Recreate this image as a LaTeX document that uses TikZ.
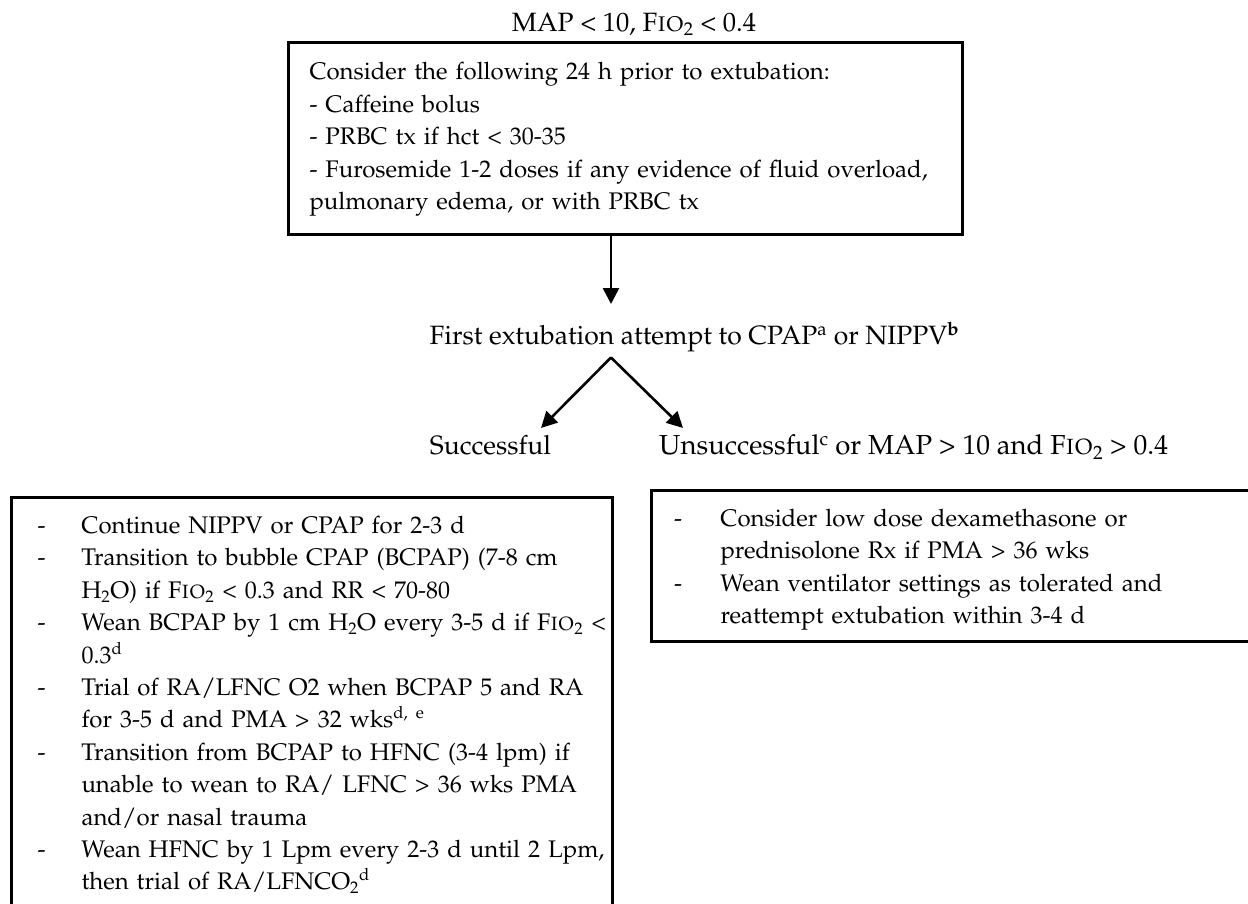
\documentclass[tikz,border=0pt]{standalone}
\usepackage[T1]{fontenc}
\renewcommand{\rmdefault}{ppl}
\usetikzlibrary{arrows.meta}
\newcommand\fio{F\textsc{io}\textsubscript{2}}
\newcommand\htwo{H\textsubscript{2}O}
\newcommand\itmA{\makebox[44pt][l]{-}}
\newcommand\cntA{\hspace*{44pt}}
\newcommand\itmB{\makebox[46.5pt][l]{-}}
\newcommand\cntB{\hspace*{46.5pt}}
\begin{document}
\begin{tikzpicture}[x=1pt,y=-1pt,
  font=\fontsize{24}{32.4}\selectfont,
  box/.style={draw, line width=3pt, align=left, inner ysep=0pt, anchor=north west},
  lbl/.style={inner sep=0pt, anchor=base, font=\fontsize{26.5}{32}\selectfont},
  arr/.style={line width=2.6pt, -{Triangle[length=16pt,width=16pt]}}]
\useasboundingbox (0,0) rectangle (1248,904);
\fill[white] (0,0) rectangle (1248,904);

\node[lbl] (title) at (634,31.5) {MAP < 10, \fio{} < 0.4};

\node[box, inner xsep=21pt, text width=632pt] (top) at (287,41.5)
 {\rule{0pt}{37pt}Consider the following 24 h prior to extubation:\\
  - Caffeine bolus\\
  - PRBC tx if hct < 30-35\\
  - Furosemide 1-2 doses if any evidence of fluid overload,\\
  pulmonary edema, or with PRBC tx\rule[-25.4pt]{0pt}{0pt}};

\node[lbl] (first) at (694.5,344.5) {First extubation attempt to CPAP\textsuperscript{a} or NIPPV\textsuperscript{\textbf{b}}};

\node[lbl] (succ) at (490.5,454.5) {Successful};
\node[lbl, anchor=base west, font=\fontsize{27.5}{32}\selectfont] (unsucc) at (659,454.5) {Unsuccessful\textsuperscript{c} or MAP > 10 and \fio{} > 0.4};

\node[box, inner xsep=26.5pt, text width=548.5pt] (left) at (9.5,496)
 {\rule{0pt}{36pt}\itmA Continue NIPPV or CPAP for 2-3 d\\
  \itmA Transition to bubble CPAP (BCPAP) (7-8 cm\\
  \cntA \htwo) if \fio{} < 0.3 and RR < 70-80\\
  \mbox{\itmA Wean BCPAP by 1 cm \htwo{} every 3-5 d if \fio{} <}\\
  \cntA 0.3\textsuperscript{d}\\
  \itmA Trial of RA/LFNC O2 when BCPAP 5 and RA\\
  \cntA for 3-5 d and PMA > 32 wks\textsuperscript{d, e}\\
  \itmA Transition from BCPAP to HFNC (3-4 lpm) if\\
  \cntA unable to wean to RA/ LFNC > 36 wks PMA\\
  \cntA and/or nasal trauma\\
  \mbox{\itmA Wean HFNC by 1 Lpm every 2-3 d until 2 Lpm,}\\
  \cntA then trial of RA/LFNCO\textsubscript{2}\textsuperscript{d}\rule[-31.6pt]{0pt}{0pt}};

\node[box, inner xsep=22.5pt, text width=575pt] (right) at (650,489)
 {\rule{0pt}{36pt}\itmB Consider low dose dexamethasone or\\
  \cntB prednisolone Rx if PMA > 36 wks\\
  \itmB Wean ventilator settings as tolerated and\\
  \cntB reattempt extubation within 3-4 d\rule[-17.8pt]{0pt}{0pt}};

\coordinate (apex) at (611,357.5);
\coordinate (tipa) at (611,304);
\coordinate (tips) at (541,428);
\coordinate (tipu) at (683,428);

\draw[arr] (apex |- top.south) -- (tipa);
\draw[arr] (apex) -- (tips);
\draw[arr] (apex) -- (tipu);
\end{tikzpicture}
\end{document}
